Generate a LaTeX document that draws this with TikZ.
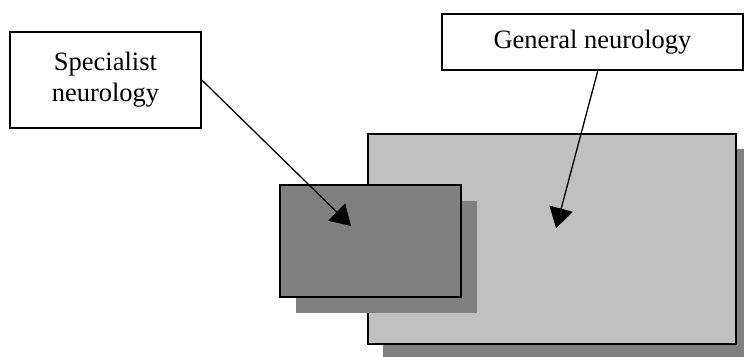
\documentclass[tikz,border=0pt]{standalone}
\usepackage{fontspec}
\setmainfont{Liberation Serif}
\usetikzlibrary{arrows.meta}
\definecolor{areaLight}{HTML}{C0C0C0}
\definecolor{areaDark}{HTML}{808080}
\definecolor{areaShade}{HTML}{808080}
\tikzset{
  labelbox/.style={draw=black, line width=1.6pt, fill=white, align=center,
    inner sep=0pt, font=\fontsize{26.5}{31}\selectfont},
  area/.style={draw=black, line width=1.6pt, inner sep=0pt},
  shade/.style={fill=areaShade, draw=none, inner sep=0pt},
  pointer/.style={line width=1.3pt, -{Triangle[length=20pt,width=24pt]}},
}
\begin{document}
\begin{tikzpicture}[x=1pt,y=-1pt]
  \useasboundingbox (0,0) rectangle (744,356);
  \clip (0,0) rectangle (744,356);
  % general area with its drop shadow
  \node[shade, minimum width=368pt, minimum height=210pt] (genshade) at (567,254) {};
  \node[area, fill=areaLight, minimum width=368pt, minimum height=210pt] (genarea) at (552,239) {};
  % specialist area with its drop shadow
  \node[shade, minimum width=181pt, minimum height=112pt] (specshade) at (386,257) {};
  \node[area, fill=areaDark, minimum width=181pt, minimum height=112pt] (specarea) at (370.5,241) {};
  % captions
  \node[labelbox, minimum width=191pt, minimum height=96pt] (spec) at (105.5,80) {Specialist\\neurology};
  \node[labelbox, minimum width=301pt, minimum height=56pt] (gen) at (592.5,42) {General neurology};
  % arrow targets
  \coordinate (spectip) at (351,226);
  \coordinate (gentip) at (556,228);
  \coordinate (genfrom) at (598,70);
  \draw[pointer] (spec.east) -- (spectip);
  \draw[pointer] (genfrom) -- (gentip);
\end{tikzpicture}
\end{document}
